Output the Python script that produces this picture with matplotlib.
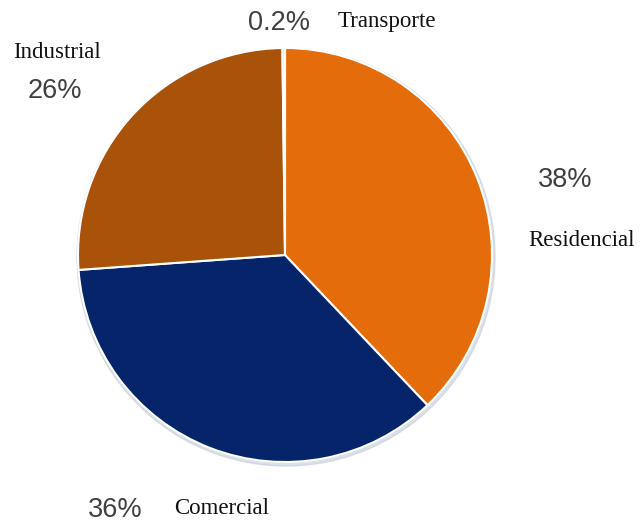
import matplotlib
matplotlib.use("Agg")
import matplotlib.pyplot as plt
from matplotlib.patches import Circle

# Consumo por sector
sectores = ["Residencial", "Comercial", "Industrial", "Transporte"]
porcentajes = [38, 36, 26, 0.2]
etiquetas_pct = ["38%", "36%", "26%", "0.2%"]
colores = ["#E46C0A", "#052469", "#A95209", "#D6D6E6"]

W, H = 644, 527
fig = plt.figure(figsize=(W / 100, H / 100), dpi=100)
ax = fig.add_axes([0, 0, 1, 1])

cx, cy, r = 285, H - 255, 207

# soft rim under the pie
ax.add_patch(Circle((cx + 1, cy - 2), r + 2, color="#CBD3DF", alpha=0.7, zorder=0))

ax.pie(porcentajes, colors=colores, startangle=90, counterclock=False,
       center=(cx, cy), radius=r, frame=True,
       wedgeprops=dict(edgecolor="white", linewidth=1.5))
ax.set_xlim(0, W)
ax.set_ylim(0, H)
ax.set_aspect("equal")
ax.axis("off")

sans = ["Liberation Sans", "DejaVu Sans"]
serif = ["Liberation Serif", "DejaVu Serif"]
pct_kw = dict(family=sans, fontsize=19.5, color="#404040", ha="center", va="center")
cat_kw = dict(family=serif, fontsize=16.5, color="#111111", ha="center", va="center")

# (percent label position, category label position), in pixels from top-left
pos = {
    "Residencial": ((565, 180), (582, 240)),
    "Comercial": ((115, 510), (222, 508)),
    "Industrial": ((55, 91), (57, 52)),
    "Transporte": ((279, 23), (387, 22)),
}
for sector, pct in zip(sectores, etiquetas_pct):
    (px, py), (tx, ty) = pos[sector]
    ax.text(px, H - py, pct, **pct_kw)
    ax.text(tx, H - ty, sector, **cat_kw)

fig.savefig("out.png", dpi=100, facecolor="white")
